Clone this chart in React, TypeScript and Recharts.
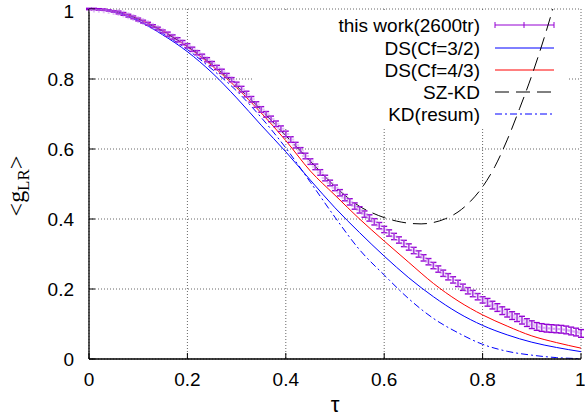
import { CartesianGrid, ErrorBar, Line, LineChart, XAxis, YAxis } from 'recharts'

const FONT = '"Liberation Sans", Arial, sans-serif'
const SERIF = '"Liberation Serif", "Times New Roman", serif'

const TICKS = [0, 0.2, 0.4, 0.6, 0.8, 1]

// this work (2600tr) — lattice points with error bars
const WORK_TAU = [
  0, 0.01, 0.02, 0.03, 0.04, 0.05, 0.06, 0.07, 0.08, 0.09,
  0.1, 0.11, 0.12, 0.13, 0.14, 0.15, 0.16, 0.17, 0.18, 0.19,
  0.2, 0.21, 0.22, 0.23, 0.24, 0.25, 0.26, 0.27, 0.28, 0.29,
  0.3, 0.31, 0.32, 0.33, 0.34, 0.35, 0.36, 0.37, 0.38, 0.39,
  0.4, 0.41, 0.42, 0.43, 0.44, 0.45, 0.46, 0.47, 0.48, 0.49,
  0.5, 0.51, 0.52, 0.53, 0.54, 0.55, 0.56, 0.57, 0.58, 0.59,
  0.6, 0.61, 0.62, 0.63, 0.64, 0.65, 0.66, 0.67, 0.68, 0.69,
  0.7, 0.71, 0.72, 0.73, 0.74, 0.75, 0.76, 0.77, 0.78, 0.79,
  0.8, 0.81, 0.82, 0.83, 0.84, 0.85, 0.86, 0.87, 0.88, 0.89,
  0.9, 0.91, 0.92, 0.93, 0.94, 0.95, 0.96, 0.97, 0.98, 0.99, 1,
]
const WORK_G = [
  1.0, 1.0, 0.999, 0.998, 0.996, 0.993, 0.99, 0.986, 0.981, 0.976,
  0.97, 0.964, 0.958, 0.951, 0.944, 0.936, 0.928, 0.92, 0.912, 0.904,
  0.895, 0.885, 0.875, 0.865, 0.855, 0.844, 0.833, 0.822, 0.81, 0.798,
  0.785, 0.771, 0.757, 0.742, 0.727, 0.713, 0.699, 0.686, 0.672, 0.658,
  0.643, 0.627, 0.611, 0.596, 0.58, 0.564, 0.549, 0.533, 0.517, 0.503,
  0.489, 0.475, 0.461, 0.449, 0.437, 0.426, 0.414, 0.403, 0.392, 0.381,
  0.37, 0.36, 0.35, 0.34, 0.33, 0.32, 0.31, 0.3, 0.289, 0.278,
  0.267, 0.257, 0.245, 0.235, 0.226, 0.216, 0.205, 0.195, 0.187, 0.178,
  0.169, 0.162, 0.154, 0.147, 0.138, 0.131, 0.124, 0.118, 0.111, 0.104,
  0.098, 0.093, 0.09, 0.088, 0.087, 0.086, 0.085, 0.083, 0.08, 0.077, 0.073,
]
const WORK_ERR = [
  0.002, 0.002, 0.002, 0.002, 0.002, 0.002, 0.004, 0.004, 0.004, 0.004,
  0.004, 0.004, 0.004, 0.004, 0.004, 0.004, 0.006, 0.006, 0.006, 0.006,
  0.006, 0.006, 0.006, 0.006, 0.006, 0.006, 0.006, 0.006, 0.006, 0.006,
  0.006, 0.008, 0.008, 0.008, 0.008, 0.008, 0.008, 0.008, 0.008, 0.008,
  0.008, 0.008, 0.008, 0.008, 0.008, 0.008, 0.008, 0.008, 0.008, 0.008,
  0.008, 0.009, 0.009, 0.009, 0.009, 0.009, 0.009, 0.009, 0.009, 0.009,
  0.009, 0.009, 0.009, 0.009, 0.009, 0.009, 0.009, 0.009, 0.009, 0.009,
  0.009, 0.009, 0.009, 0.009, 0.009, 0.009, 0.009, 0.009, 0.009, 0.009,
  0.009, 0.011, 0.011, 0.011, 0.011, 0.011, 0.011, 0.011, 0.011, 0.011,
  0.011, 0.011, 0.011, 0.011, 0.011, 0.011, 0.011, 0.011, 0.011, 0.011, 0.011,
]

// analytic curves
const CURVE_TAU = [
  0, 0.05, 0.1, 0.15, 0.2, 0.25, 0.3, 0.35, 0.4, 0.45,
  0.5, 0.55, 0.6, 0.65, 0.7, 0.75, 0.8, 0.85, 0.9, 0.95, 1,
]
const DS_32 = [
  1.0, 0.992, 0.966, 0.926, 0.878, 0.818, 0.746, 0.668, 0.592, 0.511,
  0.432, 0.361, 0.294, 0.232, 0.178, 0.132, 0.096, 0.069, 0.048, 0.033, 0.021,
]
const DS_43 = [
  1.0, 0.994, 0.972, 0.938, 0.892, 0.838, 0.775, 0.703, 0.624, 0.537,
  0.468, 0.4, 0.337, 0.276, 0.216, 0.166, 0.126, 0.094, 0.066, 0.047, 0.031,
]
const KD_RESUM = [
  1.0, 0.993, 0.968, 0.93, 0.884, 0.828, 0.766, 0.69, 0.603, 0.505,
  0.405, 0.312, 0.24, 0.172, 0.116, 0.075, 0.042, 0.022, 0.011, 0.004, 0.001,
]

const SZKD_TAU = [
  0, 0.05, 0.1, 0.15, 0.2, 0.25, 0.3, 0.35, 0.4, 0.45, 0.5,
  0.525, 0.55, 0.575, 0.6, 0.625, 0.65, 0.675, 0.7, 0.725, 0.75,
  0.775, 0.8, 0.825, 0.85, 0.875, 0.9, 0.925, 0.95,
]
const SZKD = [
  1.0, 0.994, 0.971, 0.936, 0.893, 0.842, 0.78, 0.712, 0.638, 0.565, 0.493,
  0.462, 0.436, 0.418, 0.404, 0.394, 0.388, 0.386, 0.39, 0.401, 0.42,
  0.45, 0.492, 0.55, 0.626, 0.715, 0.81, 0.917, 1.035,
]

const workData = WORK_TAU.map((tau, i) => ({ tau, g: WORK_G[i], err: WORK_ERR[i] }))
const toRows = (xs: number[], ys: number[]) => xs.map((tau, i) => ({ tau, g: ys[i] }))

const PURPLE = '#9400d3'

const LEGEND = [
  { label: 'this work(2600tr)', color: PURPLE, dash: undefined, err: true },
  { label: 'DS(Cf=3/2)', color: '#0000ff', dash: undefined, err: false },
  { label: 'DS(Cf=4/3)', color: '#ff0000', dash: undefined, err: false },
  { label: 'SZ-KD', color: '#000000', dash: '14 7', err: false },
  { label: 'KD(resum)', color: '#0000ff', dash: '7 3 2 3', err: false },
]

function KeyBox() {
  const rowY = [25, 48, 70, 92, 114]
  return (
    <g>
      <rect x={252} y={10} width={315} height={117} fill="#fff" />
      {LEGEND.map((item, i) => (
        <g key={item.label}>
          <text
            x={480}
            y={rowY[i] + 7}
            textAnchor="end"
            fontFamily={FONT}
            fontSize={19}
            fill="#000"
          >
            {item.label}
          </text>
          <line
            x1={495}
            x2={554}
            y1={rowY[i]}
            y2={rowY[i]}
            stroke={item.color}
            strokeWidth={1}
            strokeDasharray={item.dash}
          />
          {item.err &&
            [495, 524, 554].map((x) => (
              <line key={x} x1={x} x2={x} y1={rowY[i] - 3} y2={rowY[i] + 3} stroke={item.color} />
            ))}
        </g>
      ))}
    </g>
  )
}

function renderPlus(props: any) {
  const { cx, cy, index } = props
  if (cx == null || cy == null) return <g key={index} />
  return (
    <path
      key={index}
      d={`M${cx - 3.5},${cy}H${cx + 3.5}M${cx},${cy - 3.5}V${cy + 3.5}`}
      stroke="#c080e8"
      strokeOpacity={0.45}
      strokeWidth={2}
      fill="none"
    />
  )
}

function renderYLabel() {
  return (
    <text
      x={24}
      y={186}
      transform="rotate(-90, 24, 186)"
      textAnchor="middle"
      fontFamily={SERIF}
      fontSize={24}
      fill="#000"
    >
      <tspan>{'<g'}</tspan>
      <tspan dy={5} fontSize={17}>LR</tspan>
      <tspan dy={-5}>{'>'}</tspan>
    </text>
  )
}

const tickStyle = { fill: '#000', fontSize: 19, fontFamily: FONT }
const fmt = (v: number) => String(v)

export default function App() {
  return (
    <div style={{ position: 'absolute', left: 0, top: 0, width: 585, height: 420, background: '#fff' }}>
      <LineChart width={585} height={420} margin={{ top: 9, right: 4, bottom: 0, left: 0 }}>
        <CartesianGrid stroke="#666" strokeDasharray="1 2" />
        <XAxis
          dataKey="tau"
          type="number"
          domain={[0, 1]}
          ticks={TICKS}
          tickFormatter={fmt}
          allowDataOverflow
          height={61}
          tickSize={-6}
          tickMargin={20}
          tick={tickStyle}
          stroke="#000"
          axisLine={{ stroke: '#000', strokeWidth: 1.3 }}
          tickLine={{ stroke: '#000' }}
          label={{ value: 'τ', position: 'insideBottom', offset: 8, fill: '#000', fontSize: 22, fontFamily: FONT }}
        />
        <XAxis
          xAxisId="top"
          orientation="top"
          dataKey="tau"
          type="number"
          domain={[0, 1]}
          ticks={TICKS}
          height={0}
          tickSize={-6}
          tick={false}
          axisLine={{ stroke: '#000', strokeWidth: 1.3 }}
          tickLine={{ stroke: '#000' }}
        />
        <YAxis
          type="number"
          domain={[0, 1]}
          ticks={TICKS}
          tickFormatter={fmt}
          allowDataOverflow
          width={89}
          tickSize={-6}
          tickMargin={21}
          tick={tickStyle}
          axisLine={{ stroke: '#000', strokeWidth: 1.3 }}
          tickLine={{ stroke: '#000' }}
          label={{ content: renderYLabel }}
        />
        <YAxis
          yAxisId="right"
          orientation="right"
          type="number"
          domain={[0, 1]}
          ticks={TICKS}
          width={0}
          tickSize={-6}
          tick={false}
          axisLine={{ stroke: '#000', strokeWidth: 1.3 }}
          tickLine={{ stroke: '#000' }}
        />
        <KeyBox />
        <Line
          data={toRows(CURVE_TAU, DS_32)}
          dataKey="g"
          type="monotone"
          stroke="#0000ff"
          strokeWidth={1}
          dot={false}
          isAnimationActive={false}
        />
        <Line
          data={toRows(CURVE_TAU, DS_43)}
          dataKey="g"
          type="monotone"
          stroke="#ff0000"
          strokeWidth={1}
          dot={false}
          isAnimationActive={false}
        />
        <Line
          data={toRows(SZKD_TAU, SZKD)}
          dataKey="g"
          type="monotone"
          stroke="#000"
          strokeWidth={1}
          strokeDasharray="14 7"
          dot={false}
          isAnimationActive={false}
        />
        <Line
          data={toRows(CURVE_TAU, KD_RESUM)}
          dataKey="g"
          type="monotone"
          stroke="#0000ff"
          strokeWidth={1}
          strokeDasharray="7 3 2 3"
          dot={false}
          isAnimationActive={false}
        />
        <Line
          data={workData}
          dataKey="g"
          stroke="none"
          dot={renderPlus}
          activeDot={false}
          isAnimationActive={false}
        >
          <ErrorBar dataKey="err" direction="y" width={3} stroke={PURPLE} strokeWidth={1.4} isAnimationActive={false} />
        </Line>
      </LineChart>
    </div>
  )
}
